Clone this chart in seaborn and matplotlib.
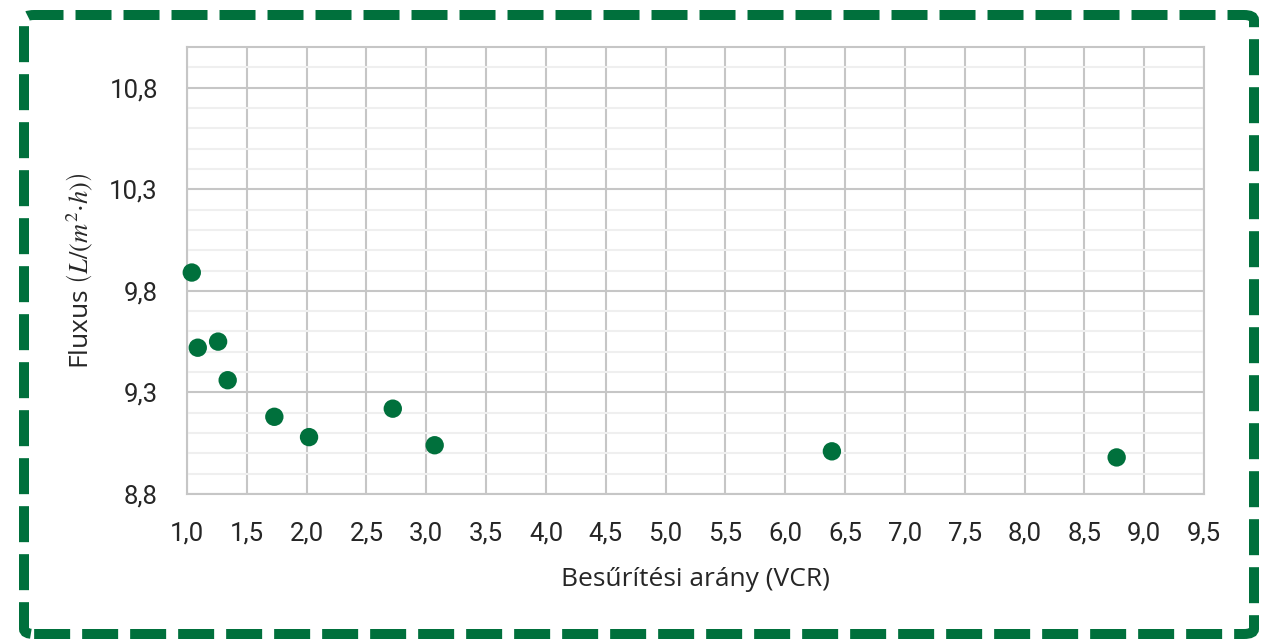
import matplotlib
matplotlib.use("Agg")
import matplotlib.pyplot as plt
import seaborn as sns
import pandas as pd
import numpy as np
from matplotlib.patches import FancyBboxPatch
from matplotlib.ticker import FixedLocator

vcr = [1.04, 1.09, 1.26, 1.34, 1.73, 2.02, 2.72, 3.07, 6.39, 8.77]
flux = [9.89, 9.52, 9.55, 9.36, 9.18, 9.08, 9.22, 9.04, 9.01, 8.98]
x_ticks = [1.0, 1.5, 2.0, 2.5, 3.0, 3.5, 4.0, 4.5, 5.0, 5.5, 6.0, 6.5, 7.0, 7.5, 8.0, 8.5, 9.0, 9.5]
y_ticks = [8.8, 9.3, 9.8, 10.3, 10.8]

GREEN = "#00703C"

sns.set_style("white")
plt.rcParams['font.family'] = ['Roboto', 'DejaVu Sans']
plt.rcParams['mathtext.fontset'] = 'stix'

df = pd.DataFrame({"VCR": vcr, "Fluxus": flux})

fig = plt.figure(figsize=(12.68, 6.39), dpi=100)
ax = fig.add_axes([187/1268, 1 - 494/639, (1204 - 187)/1268, (494 - 47)/639])

sns.scatterplot(data=df, x="VCR", y="Fluxus", ax=ax, s=175, color=GREEN,
                edgecolor="none", zorder=3, clip_on=False)

ax.set_xlim(1.0, 9.5)
ax.set_ylim(8.8, 11.0)
ax.xaxis.set_major_locator(FixedLocator(x_ticks))
ax.yaxis.set_major_locator(FixedLocator(y_ticks))
ax.yaxis.set_minor_locator(FixedLocator(np.round(np.arange(8.9, 11.0, 0.1), 2)))
ax.set_xticklabels([f"{t:.1f}".replace(".", ",") for t in x_ticks])
ax.set_yticklabels([f"{t:.1f}".replace(".", ",") for t in y_ticks])

ax.grid(True, which="major", axis="both", color="#c6c6c6", linewidth=1.5, zorder=1)
ax.grid(True, which="minor", axis="y", color="#efefef", linewidth=1.5, zorder=0)
ax.set_axisbelow(True)
for sp in ax.spines.values():
    sp.set_color("#c6c6c6")
    sp.set_linewidth(1.5)

ax.tick_params(axis="both", which="both", length=0)
ax.tick_params(axis="x", labelsize=18.5, pad=20)
ax.tick_params(axis="y", labelsize=18.5, pad=21)

ax.set_xlabel("Besűrítési arány (VCR)", fontsize=19, labelpad=15,
              family=['Open Sans', 'DejaVu Sans'])
ax.set_ylabel(r"Fluxus $\left(L/(m^2{\cdot}h)\right)$", fontsize=19, labelpad=10,
              family=['Open Sans', 'DejaVu Sans'])

border = FancyBboxPatch((24/1268, 1 - 634/639), (1254 - 24)/1268, (634 - 15)/639,
                        boxstyle="round,pad=0,rounding_size=0.008",
                        transform=fig.transFigure, fill=False,
                        edgecolor=GREEN, linewidth=7.2, linestyle=(0, (3.6, 1.2)),
                        clip_on=False)
fig.patches.append(border)

fig.savefig("out.png", dpi=100)
